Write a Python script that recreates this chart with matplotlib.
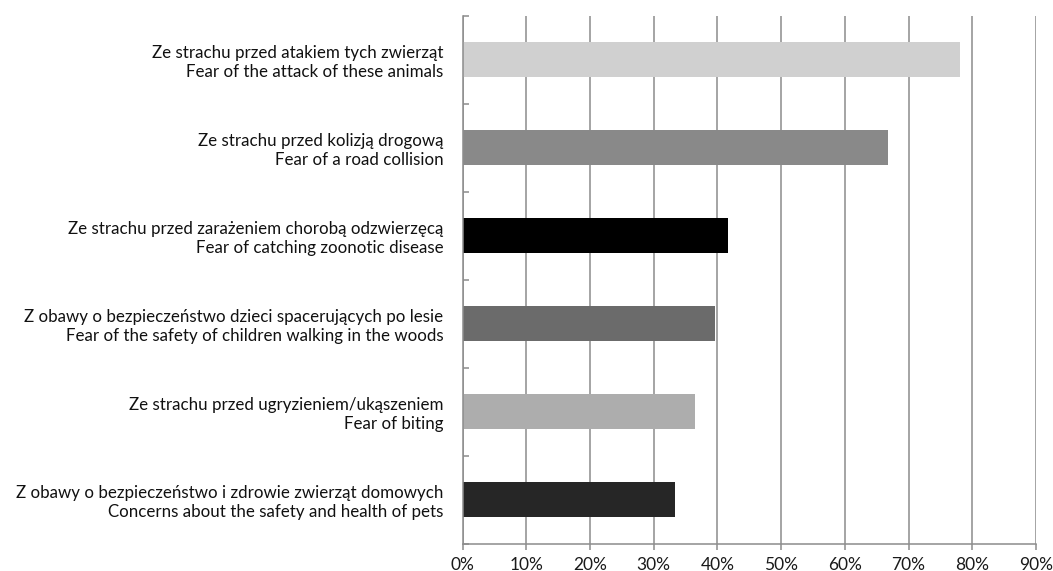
import matplotlib
matplotlib.use("Agg")
import matplotlib.pyplot as plt
from matplotlib.ticker import FixedLocator, PercentFormatter

labels_pl = [
    "Ze strachu przed atakiem tych zwierząt",
    "Ze strachu przed kolizją drogową",
    "Ze strachu przed zarażeniem chorobą odzwierzęcą",
    "Z obawy o bezpieczeństwo dzieci spacerujących po lesie",
    "Ze strachu przed ugryzieniem/ukąszeniem",
    "Z obawy o bezpieczeństwo i zdrowie zwierząt domowych",
]
labels_en = [
    "Fear of the attack of these animals",
    "Fear of a road collision",
    "Fear of catching zoonotic disease",
    "Fear of the safety of children walking in the woods",
    "Fear of biting",
    "Concerns about the safety and health of pets",
]
values = [0.781, 0.667, 0.416, 0.396, 0.364, 0.333]
bar_colors = ["#D0D0D0", "#898989", "#000000", "#6B6B6B", "#ADADAD", "#262626"]
x_ticks = [0, 0.1, 0.2, 0.3, 0.4, 0.5, 0.6, 0.7, 0.8, 0.9]

plt.rcParams['font.family'] = ['Lato', 'DejaVu Sans']

fig = plt.figure(figsize=(10.53, 5.71), dpi=100)
ax = fig.add_axes([462.7 / 1053, 27.5 / 571, (1036 - 462.7) / 1053, 528 / 571])

n = len(values)
ypos = list(range(n))
ax.barh(ypos, values, height=0.405, color=bar_colors, zorder=3)

ax.set_xlim(0, 0.9)
ax.set_ylim(n - 0.5, -0.5)

grid_c = "#8C8C8C"
ax.set_xticks(x_ticks)
ax.xaxis.set_major_formatter(PercentFormatter(1.0, decimals=0))
ax.grid(axis='x', color=grid_c, linewidth=1.1, zorder=0)
ax.tick_params(axis='x', length=4, width=1.1, color=grid_c, pad=5.5, labelsize=12.5, labelcolor='#1a1a1a')

ax.set_yticks(ypos)
ax.set_yticklabels([f"{p}\n{e}" for p, e in zip(labels_pl, labels_en)],
                   fontsize=12.2, color='#111111', linespacing=1.2)
ax.tick_params(axis='y', which='major', length=0, pad=14)
ax.yaxis.set_minor_locator(FixedLocator([i - 0.5 for i in range(n + 1)]))
ax.tick_params(axis='y', which='minor', length=4, width=1.1, color=grid_c, direction='in')

for s in ['top', 'right']:
    ax.spines[s].set_visible(False)
for s in ['left', 'bottom']:
    ax.spines[s].set_color(grid_c)
    ax.spines[s].set_linewidth(1.1)
    ax.spines[s].set_zorder(4)

fig.savefig("out.png", dpi=100, facecolor='white')
